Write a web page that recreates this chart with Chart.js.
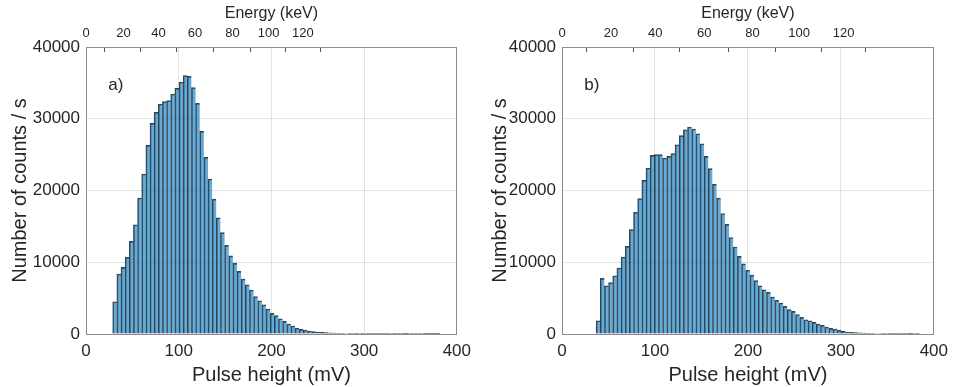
<!DOCTYPE html>
<html><head><meta charset="utf-8">
<script src="https://cdn.jsdelivr.net/npm/chart.js@4/dist/chart.umd.min.js"></script>
<style>
html,body{margin:0;padding:0;background:#fff;}
#wrap{position:relative;width:955px;height:387px;overflow:hidden;}
canvas{position:absolute;top:0;}
#chartA{left:0;}
#chartB{left:478px;}
</style></head><body>
<div id="wrap">
<canvas id="chartA" width="478" height="387"></canvas>
<canvas id="chartB" width="477" height="387"></canvas>
</div>
<script>
// ---- data ----
const binWidth = 4.47;          // mV per histogram bin
const binStartA = 28.8;         // left edge of first bin, panel a (mV)
const binStartB = 36.7;         // left edge of first bin, panel b (mV)
const countsA = [4500, 8360, 9280, 10680, 12900, 15230, 18950, 22300, 26290, 29350,
  30890, 32050, 32380, 32520, 33450, 34230, 35120, 36000, 35900, 34330,
  32140, 28240, 24610, 21600, 18800, 16200, 14140, 12350, 10890, 9840,
  8730, 7660, 6870, 6130, 5200, 4640, 4080, 3480, 2870, 2550,
  2130, 1760, 1390, 1110, 840, 640, 560, 420, 320, 280,
  230, 190, 150, 120, 100, 85, 70, 60, 50, 45,
  40, 35, 30, 28, 25, 22, 20, 18, 16, 14,
  12, 10, 10, 8, 8, 6, 6, 5, 5];
const countsB = [1850, 7750, 6730, 7150, 8120, 9200, 10730, 12210, 14540, 16950,
  18860, 21410, 23140, 24890, 25000, 25000, 24530, 24750, 25130, 26380,
  27640, 28470, 28850, 28570, 27910, 26520, 24750, 23040, 20850, 18950,
  16800, 15280, 13450, 12120, 10820, 9780, 8890, 8200, 7450, 6730,
  6170, 5800, 5160, 4680, 4320, 3850, 3390, 3150, 2690, 2320,
  1990, 1850, 1620, 1390, 1200, 980, 790, 700, 510, 370,
  280, 230, 190, 150, 120, 100, 80, 65, 55, 45,
  38, 30, 25, 20, 16, 12, 10, 8];
const energyLabels = [0, 20, 40, 60, 80, 100, 120];          // keV
const energyPulseA = [0, 40.4, 78.2, 117.5, 158, 197, 234];   // mV equivalent, panel a
const energyPulseB = [0, 52.6, 100.4, 153, 205, 255, 303];    // mV equivalent, panel b
const panelLabels = ['a)', 'b)'];

// ---- chart ----
Chart.defaults.font.family = "'Liberation Sans', Arial, Helvetica, sans-serif";
Chart.defaults.color = '#262626';
const gridCol = 'rgba(38,38,38,0.13)';
const axisCol = '#8c8c8c';

const labelPlugin = {
  id: 'panelLabel',
  afterDatasetsDraw(chart, args, opts) {
    const {ctx, scales} = chart;
    ctx.save();
    ctx.font = "17px 'Liberation Sans', Arial, sans-serif";
    ctx.fillStyle = '#262626';
    ctx.textBaseline = 'middle';
    ctx.textAlign = 'left';
    ctx.fillText(opts.text, scales.x.getPixelForValue(opts.px), scales.y.getPixelForValue(opts.py));
    ctx.restore();
  }
};

function makeChart(id, counts, binStart, energyPulse, label, leftW, rightPad, titlePad) {
  const data = counts.map((c, i) => ({x: binStart + (i + 0.5) * binWidth, y: c}));
  return new Chart(document.getElementById(id), {
    type: 'bar',
    data: {datasets: [{
      data: data,
      backgroundColor: 'rgba(0,114,189,0.6)',
      borderColor: 'rgba(30,30,30,0.85)',
      borderWidth: {top: 1, left: 1, right: 0, bottom: 0},
      borderSkipped: false,
      barPercentage: 1,
      categoryPercentage: 1,
      xAxisID: 'x', yAxisID: 'y'
    }]},
    plugins: [labelPlugin],
    options: {
      responsive: false,
      animation: false,
      devicePixelRatio: 1,
      layout: {padding: {left: 0, right: rightPad, top: 0, bottom: 0}},
      plugins: {legend: {display: false}, tooltip: {enabled: false},
        panelLabel: {text: label, px: 24, py: 34700}},
      scales: {
        x: {
          type: 'linear', position: 'bottom', min: 0, max: 400, offset: false,
          grid: {color: gridCol, drawTicks: false, offset: false},
          border: {color: axisCol, width: 1},
          ticks: {stepSize: 100, font: {size: 17}, padding: 7, maxRotation: 0,
            callback: v => String(v)},
          title: {display: true, text: 'Pulse height (mV)', font: {size: 20}, padding: {top: 0, bottom: 0}},
          afterFit: s => { s.height = 53; }
        },
        x2: {
          type: 'linear', position: 'top', min: 0, max: 400, offset: false,
          grid: {drawOnChartArea: false, drawTicks: true, tickLength: -5, color: '#555'},
          border: {color: axisCol, width: 1},
          afterBuildTicks: s => { s.ticks = energyPulse.map(v => ({value: v})); },
          ticks: {font: {size: 13}, padding: 11, maxRotation: 0, autoSkip: false,
            callback: (v, i) => String(energyLabels[i])},
          title: {display: true, text: 'Energy (keV)', font: {size: 16}, padding: {top: 4, bottom: 0}},
          afterFit: s => { s.height = 47; }
        },
        y: {
          type: 'linear', position: 'left', min: 0, max: 40000,
          grid: {color: gridCol, drawTicks: false},
          border: {color: axisCol, width: 1},
          ticks: {stepSize: 10000, font: {size: 17}, padding: 6, callback: v => String(v)},
          title: {display: true, text: 'Number of counts / s', font: {size: 20}, padding: {top: titlePad, bottom: 0}},
          afterFit: s => { s.width = leftW; }
        },
        yr: {
          type: 'linear', position: 'right', min: 0, max: 40000,
          grid: {drawOnChartArea: false, drawTicks: false},
          border: {color: axisCol, width: 1},
          ticks: {display: false},
          afterFit: s => { s.width = 0; }
        }
      }
    }
  });
}

makeChart('chartA', countsA, binStartA, energyPulseA, panelLabels[0], 86, 12, 8);
makeChart('chartB', countsB, binStartB, energyPulseB, panelLabels[1], 84, 15, 10);
</script>
</body></html>
